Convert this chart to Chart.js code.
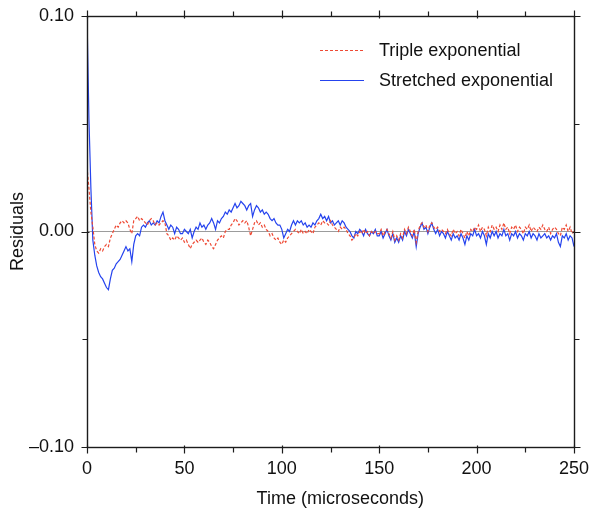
<!DOCTYPE html>
<html>
<head>
<meta charset="utf-8">
<script src="https://cdn.jsdelivr.net/npm/chart.js@4/dist/chart.umd.min.js"></script>
<style>
  body { margin: 0; background: #fff; }
  #wrap { width: 590px; height: 513px; }
</style>
</head>
<body>
<div id="wrap"><canvas id="chart" width="590" height="513"></canvas></div>
<script>
// time grid in microseconds, one sample per microsecond
const times = Array.from({ length: 251 }, (_, i) => i);

const seriesNames = ['Triple exponential', 'Stretched exponential'];
const xTitle = 'Time (microseconds)';

const tripleResiduals = [
  0.030, 0.020, 0.009, 0.002, -0.006, -0.009, -0.010, -0.008, -0.009, -0.007,
  -0.006, -0.007, -0.003, -0.001, 0.001, 0.003, 0.002, 0.004, 0.005, 0.004,
  0.005, 0.004, 0.001, -0.001, 0.005, 0.006, 0.007, 0.005, 0.006, 0.005,
  0.004, 0.003, 0.005, 0.006, 0.005, 0.003, 0.004, 0.003, 0.004, 0.005,
  0.004, -0.001, -0.002, -0.004, -0.003, -0.004, -0.002, -0.003, -0.004, -0.003,
  -0.005, -0.004, -0.006, -0.008, -0.006, -0.005, -0.004, -0.005, -0.004, -0.003,
  -0.005, -0.006, -0.004, -0.005, -0.007, -0.008, -0.006, -0.004, -0.003, -0.002,
  -0.003, 0.000, 0.001, 0.001, 0.003, 0.004, 0.006, 0.005, 0.003, 0.004,
  0.005, 0.004, 0.005, 0.002, -0.002, 0.001, 0.004, 0.005, 0.003, 0.004,
  0.002, 0.003, 0.001, 0.000, -0.002, -0.001, -0.003, -0.004, -0.003, -0.005,
  -0.006, -0.004, -0.005, -0.003, -0.002, -0.001, 0.000, 0.001, 0.000, -0.001,
  0.001, -0.001, 0.000, -0.001, 0.001, 0.000, -0.001, 0.002, 0.003, 0.004,
  0.003, 0.005, 0.004, 0.004, 0.003, 0.005, 0.003, 0.002, 0.001, 0.000,
  0.002, 0.001, 0.002, 0.001, -0.001, -0.002, -0.004, -0.003, -0.001, -0.002,
  0.000, -0.001, 0.001, -0.001, 0.000, -0.002, 0.000, -0.001, 0.000, -0.001,
  -0.001, 0.001, -0.002, 0.000, 0.001, -0.001, -0.003, 0.000, -0.004, -0.002,
  -0.004, -0.001, -0.003, 0.001, -0.001, 0.002, 0.000, -0.002, 0.001, -0.005,
  0.000, 0.003, 0.004, 0.002, 0.003, 0.000, 0.003, 0.004, 0.002, 0.001,
  0.002, 0.000, 0.001, 0.000, -0.001, 0.001, -0.001, -0.002, 0.001, -0.001,
  0.000, -0.002, 0.001, -0.001, -0.003, 0.000, -0.002, 0.001, 0.000, 0.002,
  0.001, 0.003, 0.000, 0.002, 0.001, -0.002, 0.002, 0.000, 0.003, 0.001,
  0.002, 0.000, 0.003, 0.001, 0.004, 0.001, 0.002, -0.001, 0.002, 0.001,
  0.003, 0.000, 0.002, 0.001, -0.001, 0.002, 0.001, 0.003, 0.000, 0.002,
  0.001, 0.000, 0.002, 0.001, 0.003, 0.001, 0.000, 0.002, -0.001, 0.001,
  0.002, 0.001, -0.001, -0.002, 0.002, 0.001, 0.003, 0.000, 0.002, -0.001,
  0.000
];

const stretchedResiduals = [
  0.100, 0.052, 0.020, -0.004, -0.011, -0.016, -0.019, -0.021, -0.022, -0.024,
  -0.026, -0.027, -0.022, -0.018, -0.017, -0.015, -0.014, -0.013, -0.011, -0.009,
  -0.007, -0.009, -0.008, -0.014, -0.006, -0.002, -0.001, -0.002, 0.002, 0.003,
  0.002, 0.004, 0.005, 0.003, 0.004, 0.003, 0.005, 0.004, 0.007, 0.009,
  0.005, 0.003, 0.001, 0.003, 0.002, -0.001, 0.002, 0.001, -0.001, -0.001,
  0.001, 0.000, -0.001, 0.001, -0.003, 0.000, 0.002, 0.001, 0.004, 0.002,
  0.003, 0.001, 0.003, 0.004, 0.006, 0.004, 0.001, 0.005, 0.004, 0.006,
  0.007, 0.009, 0.008, 0.010, 0.009, 0.011, 0.013, 0.011, 0.012, 0.014,
  0.013, 0.012, 0.010, 0.012, 0.013, 0.007, 0.010, 0.012, 0.011, 0.009,
  0.010, 0.008, 0.009, 0.008, 0.006, 0.005, 0.006, 0.004, 0.003, 0.003,
  0.001, -0.003, -0.001, 0.001, 0.000, 0.003, 0.005, 0.003, 0.005, 0.004,
  0.005, 0.003, 0.004, 0.002, 0.003, 0.002, 0.004, 0.003, 0.005, 0.006,
  0.008, 0.006, 0.007, 0.005, 0.007, 0.004, 0.005, 0.003, 0.004, 0.005,
  0.003, 0.005, 0.004, 0.002, 0.001, 0.000, -0.002, -0.003, 0.000, -0.001,
  0.001, 0.000, -0.002, 0.001, -0.001, -0.002, 0.000, -0.001, 0.001, -0.002,
  -0.002, 0.000, -0.003, -0.001, 0.001, -0.002, -0.004, -0.001, -0.005, -0.003,
  -0.005, -0.002, -0.004, 0.000, -0.002, 0.001, -0.001, -0.003, 0.000, -0.007,
  -0.001, 0.002, 0.004, 0.001, 0.002, -0.001, 0.002, 0.004, 0.001, -0.001,
  0.001, -0.002, 0.000, -0.001, -0.003, 0.000, -0.002, -0.004, -0.001, -0.003,
  -0.002, -0.004, -0.001, -0.003, -0.006, -0.002, -0.004, -0.001, -0.002, 0.001,
  -0.002, -0.001, -0.003, 0.000, -0.002, -0.006, -0.001, -0.003, 0.000, -0.002,
  0.000, -0.003, -0.001, -0.002, 0.001, -0.002, -0.001, -0.004, -0.001, -0.002,
  0.000, -0.003, -0.001, -0.002, -0.004, -0.001, -0.002, 0.000, -0.003, -0.001,
  -0.002, -0.004, -0.001, -0.003, -0.002, -0.001, -0.003, -0.002, -0.004, -0.002,
  -0.003, -0.001, -0.005, -0.007, -0.002, -0.003, -0.001, -0.004, -0.002, -0.003,
  -0.007
];

const xTickValues = [0, 25, 50, 75, 100, 125, 150, 175, 200, 225, 250];
const yTickValues = [-0.10, -0.05, 0.00, 0.05, 0.10];

const RED = '#ee4a35';
const BLUE = '#2543ee';
const FONT = '"Liberation Sans", Arial, Helvetica, sans-serif';

const toPoints = (vals) => vals.map((v, i) => ({ x: times[i], y: v }));

const isMajorY = (v) => Math.round(v * 100) % 10 === 0;

// labels may overhang the plot box like in the original, so drop the auto padding
const noLabelPadding = (s) => {
  s.paddingTop = 0;
  s.paddingBottom = 0;
  s.paddingLeft = 0;
  s.paddingRight = 0;
};

// box, outward ticks, x title and the in-plot legend
const framePlugin = {
  id: 'frame',
  afterDraw(chart) {
    const { ctx, chartArea: a, scales } = chart;
    const x = scales.x;
    const y = scales.y;
    const L = Math.round(a.left) + 0.5;
    const R = Math.round(a.right) + 0.5;
    const T = Math.round(a.top) + 0.5;
    const B = Math.round(a.bottom) + 0.5;

    ctx.save();
    ctx.strokeStyle = '#1c1c1c';
    ctx.lineWidth = 1.4;
    ctx.strokeRect(L, T, R - L, B - T);

    ctx.lineWidth = 1.2;
    ctx.beginPath();
    xTickValues.forEach(v => {
      const px = Math.round(x.getPixelForValue(v)) + 0.5;
      const major = v % 50 === 0;
      ctx.moveTo(px, B - (major ? 2 : 0));
      ctx.lineTo(px, B + (major ? 6 : 5));
      ctx.moveTo(px, T + (major ? 2 : 0));
      ctx.lineTo(px, T - (major ? 6 : 5));
    });
    yTickValues.forEach(v => {
      const py = Math.round(y.getPixelForValue(v)) + 0.5;
      const major = isMajorY(v);
      ctx.moveTo(L + (major ? 2 : 0), py);
      ctx.lineTo(L - (major ? 6 : 5), py);
      ctx.moveTo(R - (major ? 2 : 0), py);
      ctx.lineTo(R + (major ? 6 : 5), py);
    });
    ctx.stroke();

    ctx.font = '18px ' + FONT;
    ctx.fillStyle = '#111';

    // x title sits a bit right of the plot centre in the original
    ctx.textAlign = 'center';
    ctx.textBaseline = 'middle';
    ctx.fillText(xTitle, x.getPixelForValue(130), 499);

    // legend
    const rows = [
      { label: seriesNames[0], color: RED, dash: [3, 2], yPos: 50 },
      { label: seriesNames[1], color: BLUE, dash: [], yPos: 80 }
    ];
    ctx.textAlign = 'left';
    rows.forEach(r => {
      ctx.strokeStyle = r.color;
      ctx.lineWidth = 1;
      ctx.setLineDash(r.dash);
      ctx.beginPath();
      ctx.moveTo(320, r.yPos + 0.5);
      ctx.lineTo(364, r.yPos + 0.5);
      ctx.stroke();
      ctx.setLineDash([]);
      ctx.fillStyle = '#111';
      ctx.fillText(r.label, 379, r.yPos + 1);
    });
    ctx.restore();
  }
};

const ctx = document.getElementById('chart').getContext('2d');
const chart = new Chart(ctx, {
  type: 'line',
  data: {
    datasets: [
      {
        label: seriesNames[0],
        data: toPoints(tripleResiduals),
        borderColor: RED,
        borderWidth: 1.2,
        borderDash: [3, 2],
        pointRadius: 0,
        tension: 0,
        fill: false
      },
      {
        label: seriesNames[1],
        data: toPoints(stretchedResiduals),
        borderColor: BLUE,
        borderWidth: 1.2,
        pointRadius: 0,
        tension: 0,
        fill: false
      }
    ]
  },
  options: {
    responsive: false,
    animation: false,
    events: [],
    layout: { padding: { top: 16, right: 16, left: 0, bottom: 0 } },
    plugins: {
      legend: { display: false },
      tooltip: { enabled: false }
    },
    scales: {
      x: {
        type: 'linear',
        min: 0,
        max: 250,
        afterFit: s => { s.height = 66; noLabelPadding(s); },
        border: { display: false },
        grid: { display: false, drawTicks: false },
        ticks: {
          stepSize: 50,
          padding: 11,
          color: '#111',
          font: { family: FONT, size: 18 },
          maxRotation: 0
        },
        title: { display: false }
      },
      y: {
        min: -0.1,
        max: 0.1,
        afterFit: s => { s.width = 87; noLabelPadding(s); },
        afterBuildTicks: s => { s.ticks = yTickValues.filter(isMajorY).map(v => ({ value: v })); },
        border: { display: false },
        grid: {
          drawTicks: false,
          color: c => (Math.abs(c.tick.value) < 1e-9 ? '#9c9c9c' : 'rgba(0,0,0,0)'),
          lineWidth: 1
        },
        ticks: {
          padding: 13,
          color: '#111',
          font: { family: FONT, size: 18 },
          callback: v => (v < -1e-9 ? '\u2013' : '') + Math.abs(v).toFixed(2)
        },
        title: {
          display: true,
          text: 'Residuals',
          color: '#111',
          font: { family: FONT, size: 18 },
          padding: { top: 7, bottom: 0 }
        }
      }
    }
  },
  plugins: [framePlugin]
});
</script>
</body>
</html>
